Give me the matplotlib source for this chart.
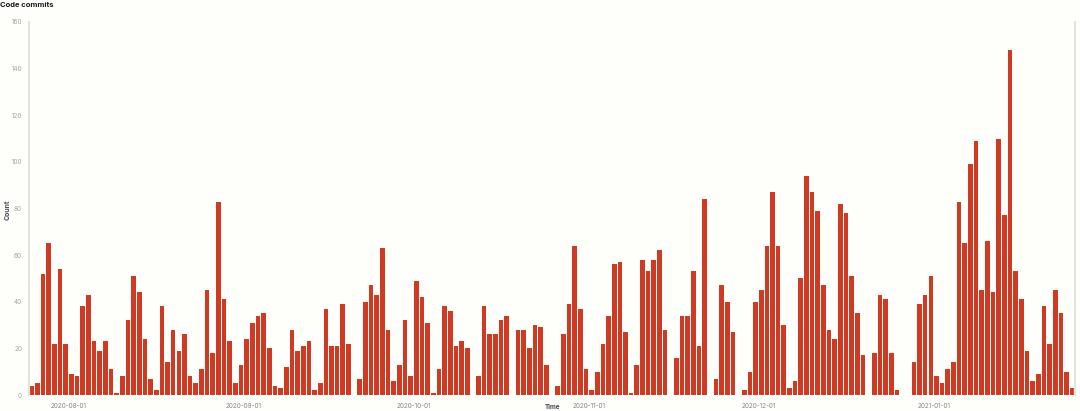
import matplotlib
matplotlib.use("Agg")
import matplotlib.pyplot as plt
import matplotlib.dates as mdates
import pandas as pd
import numpy as np

start_date = "2020-07-25"
counts = [
    4, 5, 52, 65, 22, 54, 22, 9, 8, 38, 43, 23, 19, 23, 11, 1, 8, 32, 51, 44, 24, 7, 2, 38, 14, 28, 19, 26, 8, 5, 11,
    45, 18, 83, 41, 23, 5, 13, 24, 31, 34, 35, 20,
    4, 3, 12, 28, 19, 21, 23, 2, 5, 37, 21, 21, 39, 22,
    0,
    7, 40, 47, 43, 63, 28, 6, 13, 32, 8, 49, 42, 31, 1, 11, 38, 36, 21, 23, 20,
    0,
    8, 38, 26, 26, 32, 34,
    0,
    28, 28, 20, 30, 29, 13,
    0,
    4, 26, 39, 64, 37, 11, 2, 10, 22, 34, 56, 57, 27, 1, 13, 58, 53, 58, 62, 28,
    0,
    16, 34, 34, 53, 21, 84,
    0,
    7, 47, 40, 27,
    0,
    2, 10, 40, 45, 64, 87, 64, 30, 3, 6, 50, 94, 87, 79, 47, 28, 24, 82, 78, 51, 35, 17,
    0,
    18, 43, 41, 18, 2,
    0, 0,
    14, 39, 43, 51, 8, 5, 11, 14, 83, 65, 99, 109, 45, 66, 44, 110, 77, 148, 53, 41, 19, 6, 9, 38, 22, 45, 35, 10, 3,
]
month_ticks = ["2020-08-01", "2020-09-01", "2020-10-01", "2020-11-01", "2020-12-01", "2021-01-01"]
y_ticks = [0, 20, 40, 60, 80, 100, 120, 140, 160]
title = "Code commits"
y_label = "Count"
x_label = "Time"

bg = "#fefefa"
bar_color = "#d13a22"

dates = pd.date_range(start_date, periods=len(counts), freq="D")
xnum = mdates.date2num(dates.to_pydatetime())

fig = plt.figure(figsize=(10.8, 4.11), dpi=100, facecolor=bg)
ax = fig.add_axes([29 / 1080, 1 - 395 / 411, (1075 - 29) / 1080, (395 - 22) / 411])
ax.set_facecolor(bg)

ax.bar(xnum + 0.09, counts, width=0.82, align="edge", color=bar_color, linewidth=0)

ax.set_xlim(xnum[0], xnum[-1] + 1)
ax.set_ylim(0, 160)

ax.set_yticks(y_ticks)
ax.set_yticklabels([str(v) for v in y_ticks], fontsize=4.6, color="#a0a4ab", family="Inter")
tick_pos = mdates.date2num(pd.to_datetime(month_ticks).to_pydatetime())
ax.set_xticks(tick_pos)
ax.set_xticklabels(month_ticks, fontsize=4.6, color="#80858d", family="Inter")
ax.tick_params(axis="both", length=0)
ax.tick_params(axis="y", pad=5)
ax.tick_params(axis="x", pad=5.5)

for s in ["top", "bottom"]:
    ax.spines[s].set_visible(False)
for s in ["left", "right"]:
    ax.spines[s].set_color("#e3e3e0")
    ax.spines[s].set_linewidth(1.6)

fig.text(0.5 / 1080, 1 - 5 / 411, title, fontsize=5.5, fontweight="bold", color="#1a1c21",
         family="Inter", ha="left", va="center")
fig.text(8 / 1080, 1 - 210 / 411, y_label, fontsize=5.0, fontweight="bold", color="#4a4e57",
         family="Inter", rotation=90, ha="center", va="center")
fig.text(553 / 1080, 1.0 / 411, x_label, fontsize=4.6, fontweight="bold", color="#4a4e57",
         family="Inter", ha="center", va="bottom")

fig.savefig("out.png", dpi=100, facecolor=bg)
